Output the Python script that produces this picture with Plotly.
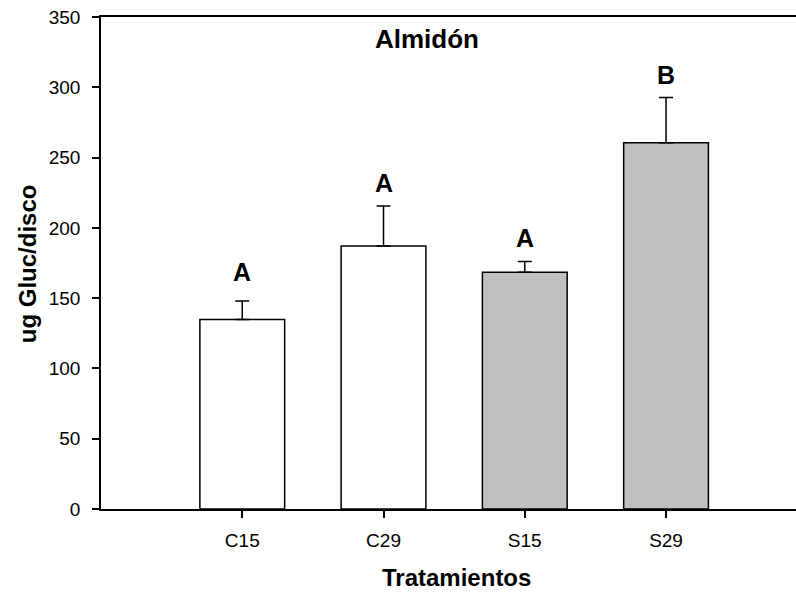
import plotly.graph_objects as go

categories = ["C15", "C29", "S15", "S29"]
means = [134.8, 187.1, 168.4, 260.6]
errors = [13.2, 28.5, 7.6, 32.2]
letters = ["A", "A", "A", "B"]
letter_y = [168.6, 231.7, 192.7, 308.7]
colors = ["#FFFFFF", "#FFFFFF", "#C0C0C0", "#C0C0C0"]
yticks = [0, 50, 100, 150, 200, 250, 300, 350]

W, H = 796, 592
L, R, T, B = 101, 0, 16.5, 83
pw = W - L - R
ph = H - T - B

fig = go.Figure()
fig.add_trace(go.Bar(
    x=list(range(len(categories))), y=means, width=0.6,
    marker=dict(color=colors, line=dict(color="black", width=1.5)),
    error_y=dict(type="data", array=errors, symmetric=False, arrayminus=[0]*4,
                 color="black", thickness=1.5, width=7),
    showlegend=False,
))

for i, (lt, ly) in enumerate(zip(letters, letter_y)):
    fig.add_annotation(x=i, y=ly, xref="x", yref="y", text="<b>%s</b>" % lt,
                       showarrow=False, yanchor="middle",
                       font=dict(family="Liberation Sans, Arial", size=25, color="black"))

fig.add_annotation(x=(426.5 - L) / pw, y=(H - B - 38.3) / ph, xref="paper", yref="paper",
                   text="<b>Almidón</b>", showarrow=False, yanchor="middle",
                   font=dict(family="Liberation Sans, Arial", size=26, color="black"))
fig.add_annotation(x=(456.5 - L) / pw, y=(H - B - 578) / ph, xref="paper", yref="paper",
                   text="<b>Tratamientos</b>", showarrow=False, yanchor="middle",
                   font=dict(family="Liberation Sans, Arial", size=24, color="black"))
fig.add_annotation(x=(27 - L) / pw, y=(H - B - 264) / ph, xref="paper", yref="paper",
                   text="<b>ug Gluc/disco</b>", showarrow=False, textangle=-90,
                   xanchor="center", yanchor="middle",
                   font=dict(family="Liberation Sans, Arial", size=24, color="black"))

fig.update_layout(
    width=W, height=H,
    margin=dict(l=L, r=R, t=T, b=B, pad=0),
    paper_bgcolor="white", plot_bgcolor="white",
    font=dict(family="Liberation Sans, Arial", size=19, color="black"),
    xaxis=dict(range=[-1, 3.92], tickmode="array", tickvals=list(range(len(categories))),
               ticktext=categories, ticks="outside", ticklen=7, tickwidth=1.5,
               tickcolor="black", showline=True, linecolor="black", linewidth=1.5,
               mirror=True, showgrid=False, zeroline=False, ticklabelstandoff=6),
    yaxis=dict(range=[0, 350], tickvals=yticks, ticks="outside", ticklen=7, tickwidth=1.5,
               tickcolor="black", showline=True, linecolor="black", linewidth=1.5,
               showgrid=False, zeroline=False, ticklabelstandoff=8),
)

fig.write_html("out.html")
